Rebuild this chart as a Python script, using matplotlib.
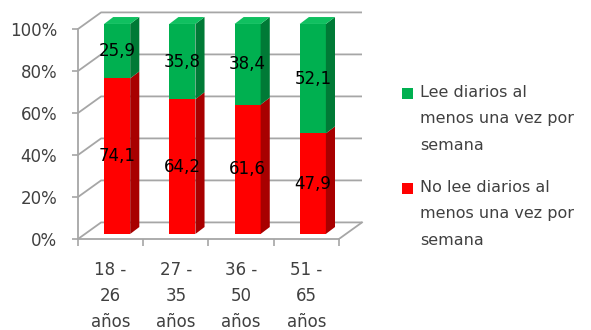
import matplotlib.pyplot as plt
from matplotlib.patches import Polygon, Rectangle

# Share of readers per age group (%)
groups = ["18 -\n26\naños", "27 -\n35\naños", "36 -\n50\naños", "51 -\n65\naños"]
no_lee = [74.1, 64.2, 61.6, 47.9]
lee = [25.9, 35.8, 38.4, 52.1]
series_names = ["Lee diarios al\nmenos una vez por\nsemana",
                "No lee diarios al\nmenos una vez por\nsemana"]
y_ticks = [0, 20, 40, 60, 80, 100]

green, green_side, green_top = "#00B050", "#007A36", "#10C060"
red, red_side = "#FF0000", "#A80000"
grid_col = "#A6A6A6"

# fake 3d geometry (data units)
wall_dx, wall_dy = 0.354, 7.9      # back wall offset
bar_dx, bar_dy = 0.10, 2.4         # bar front sits a bit behind the front plane
side_dx, side_dy = 0.14, 3.3       # bar depth
bar_w = 0.40

fig = plt.figure(figsize=(5.91, 3.30), dpi=100)
ax = fig.add_axes([78 / 591, 91 / 330, 287 / 591, 231 / 330])
ax.set_xlim(0, 4.4)
ax.set_ylim(0, 110)

# back wall gridlines with the diagonal on the left wall
for v in y_ticks:
    ax.plot([0, wall_dx, 4 + wall_dx], [v, v + wall_dy, v + wall_dy],
            color=grid_col, lw=1.3, zorder=1, solid_capstyle="butt")
# floor right edge
ax.plot([4, 4 + wall_dx], [0, wall_dy], color=grid_col, lw=1.3, zorder=1)


def box(x0, y0, y1, front, side, top=None):
    x1 = x0 + bar_w
    ax.add_patch(Rectangle((x0, y0), bar_w, y1 - y0, facecolor=front,
                           edgecolor="none", zorder=3))
    ax.add_patch(Polygon([(x1, y0), (x1 + side_dx, y0 + side_dy),
                          (x1 + side_dx, y1 + side_dy), (x1, y1)],
                         facecolor=side, edgecolor="none", zorder=3))
    if top is not None:
        ax.add_patch(Polygon([(x0, y1), (x1, y1), (x1 + side_dx, y1 + side_dy),
                              (x0 + side_dx, y1 + side_dy)],
                             facecolor=top, edgecolor="none", zorder=3))


for i, (r, g) in enumerate(zip(no_lee, lee)):
    x0 = i + 0.5 - bar_w / 2 + bar_dx
    base = bar_dy
    box(x0, base, base + r, red, red_side)
    box(x0, base + r, base + r + g, green, green_side, green_top)
    cx = x0 + bar_w / 2
    ax.text(cx, base + r / 2, f"{r:.1f}".replace(".", ","), ha="center",
            va="center", fontsize=12, color="black", zorder=4)
    ax.text(cx, base + r + g / 2, f"{g:.1f}".replace(".", ","), ha="center",
            va="center", fontsize=12, color="black", zorder=4)

for s in ["top", "right"]:
    ax.spines[s].set_visible(False)
ax.spines["left"].set_bounds(0, 100)
ax.spines["bottom"].set_bounds(0, 4)
for s in ["left", "bottom"]:
    ax.spines[s].set_color(grid_col)
    ax.spines[s].set_linewidth(1.3)

ax.set_yticks(y_ticks)
ax.set_yticklabels([f"{v}%" for v in y_ticks], fontsize=12, color="#404040")
ax.tick_params(axis="y", length=4, width=1.2, color=grid_col, pad=11)

ax.set_xticks([0, 1, 2, 3, 4])
ax.set_xticklabels([])
ax.tick_params(axis="x", which="major", length=5, width=1.2, color=grid_col)
ax.set_xticks([0.5, 1.5, 2.5, 3.5], minor=True)
ax.set_xticklabels(groups, minor=True, fontsize=12, color="#404040",
                   linespacing=1.55)
ax.tick_params(axis="x", which="minor", length=0, pad=16)

# legend drawn by hand so the wrapped labels keep their spacing
leg_colors = [green, red]
leg_tops = [88 / 330, 183 / 330]
for col, name, top in zip(leg_colors, series_names, leg_tops):
    fig.patches.append(Rectangle((402 / 591, 1 - top - 11 / 330), 11 / 591,
                                 11 / 330, facecolor=col, edgecolor="none",
                                 transform=fig.transFigure))
    fig.text(420 / 591, 1 - top + 3 / 330, name, ha="left", va="top",
             fontsize=11.5, color="#404040", linespacing=1.95)

fig.savefig("out.png", dpi=100)
